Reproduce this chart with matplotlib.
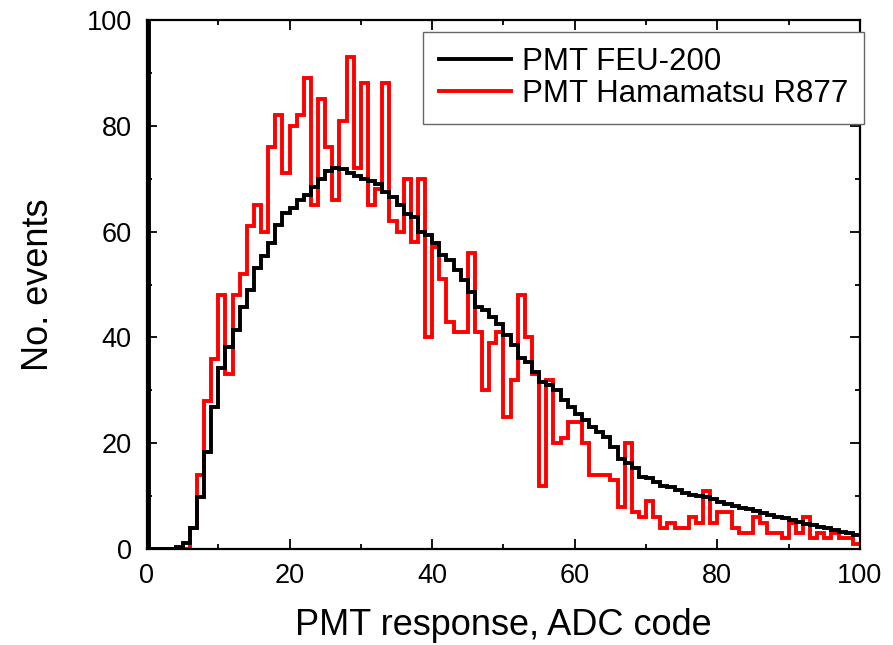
import numpy as np
import matplotlib
matplotlib.use("Agg")
import matplotlib.pyplot as plt
from matplotlib.ticker import MultipleLocator
from matplotlib.lines import Line2D

plt.rcParams['font.family'] = ['Liberation Sans', 'DejaVu Sans']

# ADC code bin edges (1 ADC code per bin)
bin_edges = np.arange(0, 101)

# PMT FEU-200 counts per bin (bins 0..99)
feu200 = [
    0, 0, 0, 0, 0.3, 1.1, 3.9, 9.9, 18.4, 26.9,
    34.2, 38.2, 41.4, 45.8, 49.0, 53.1, 55.3, 57.8, 61.2, 63.5,
    64.5, 66.0, 67.0, 68.5, 70.0, 71.5, 72.0, 71.8, 71.0, 70.5,
    70.0, 69.5, 69.0, 67.5, 66.5, 65.0, 63.4, 62.8, 60.0, 59.3,
    57.8, 55.6, 54.6, 52.7, 50.8, 48.6, 45.8, 45.2, 43.9, 42.6,
    40.4, 38.6, 36.1, 35.4, 33.5, 31.6, 31.0, 30.0, 28.2, 26.9,
    25.6, 24.4, 23.1, 22.2, 21.2, 19.2, 17.1, 16.2, 15.3, 13.7,
    13.4, 12.7, 11.9, 11.7, 11.1, 10.5, 10.2, 10.0, 9.9, 9.4,
    8.9, 8.5, 8.1, 7.8, 7.5, 7.2, 6.8, 6.5, 6.1, 5.8,
    5.5, 5.2, 4.8, 4.5, 4.2, 3.9, 3.6, 3.3, 3.0, 2.7,
]
# pedestal of the FEU-200 spectrum (off scale)
pedestal_x = [0.25]
pedestal_count = [1000]

# PMT Hamamatsu R877 counts per bin (bins 0..99)
r877 = [
    0, 0, 0, 0, 0, 0, 4, 14, 28, 36,
    48, 33, 48, 52, 61, 65, 60, 76, 82, 71,
    80, 82, 89, 65, 85, 76, 66, 81, 93, 72,
    88, 65, 68, 88, 62, 60, 70, 58, 70, 40,
    57, 51, 43, 41, 41, 56, 41, 30, 39, 41,
    25, 32, 48, 40, 33, 12, 32, 20, 21, 24,
    24, 20, 14, 14, 14, 13, 8, 20, 7, 6,
    9, 6, 4, 5, 4, 4, 6, 5, 11, 5,
    7, 7, 4, 3, 3, 6, 5, 3, 3, 2,
    5, 3, 6, 2, 3, 2, 3, 2, 2, 1,
]

labels = ["PMT FEU-200", "PMT Hamamatsu R877"]
x_label = "PMT response, ADC code"
y_label = "No. events"

fig = plt.figure(figsize=(8.93, 6.45), dpi=100)
ax = fig.add_axes([0.1646, 0.1488, 0.963 - 0.1646, 0.969 - 0.1488])

lw = 2.8
ax.stairs(r877, bin_edges, color='#ff0000', lw=lw, baseline=None, zorder=2)
ax.stairs(feu200, bin_edges, color='black', lw=lw, baseline=None, zorder=3)
ax.vlines(pedestal_x, 0, pedestal_count, color='black', lw=lw, zorder=3)

ax.set_xlim(0, 100)
ax.set_ylim(0, 100)

ax.xaxis.set_major_locator(MultipleLocator(20))
ax.xaxis.set_minor_locator(MultipleLocator(10))
ax.yaxis.set_major_locator(MultipleLocator(20))
ax.yaxis.set_minor_locator(MultipleLocator(10))
ax.tick_params(which='both', direction='in', top=True, right=True,
               width=1.3, labelsize=19.5)
ax.tick_params(axis='x', which='both', pad=10)
ax.tick_params(axis='y', which='both', pad=11)
ax.tick_params(which='major', length=7.2)
ax.tick_params(which='minor', length=3.6)
for s in ax.spines.values():
    s.set_linewidth(1.6)

ax.set_xlabel(x_label, fontsize=26, labelpad=14)
ax.set_ylabel(y_label, fontsize=26, labelpad=22)

handles = [Line2D([], [], color='black', lw=lw),
           Line2D([], [], color='#ff0000', lw=lw)]
leg = ax.legend(handles, labels, loc='upper right',
                bbox_to_anchor=(1.005, 0.978), borderaxespad=0,
                fancybox=False, edgecolor='#666666', framealpha=1,
                fontsize=22.5, handlelength=2.3, handletextpad=0.35,
                labelspacing=0.05, borderpad=0.5)
leg.get_frame().set_linewidth(1.0)

fig.savefig("out.png", dpi=100)
